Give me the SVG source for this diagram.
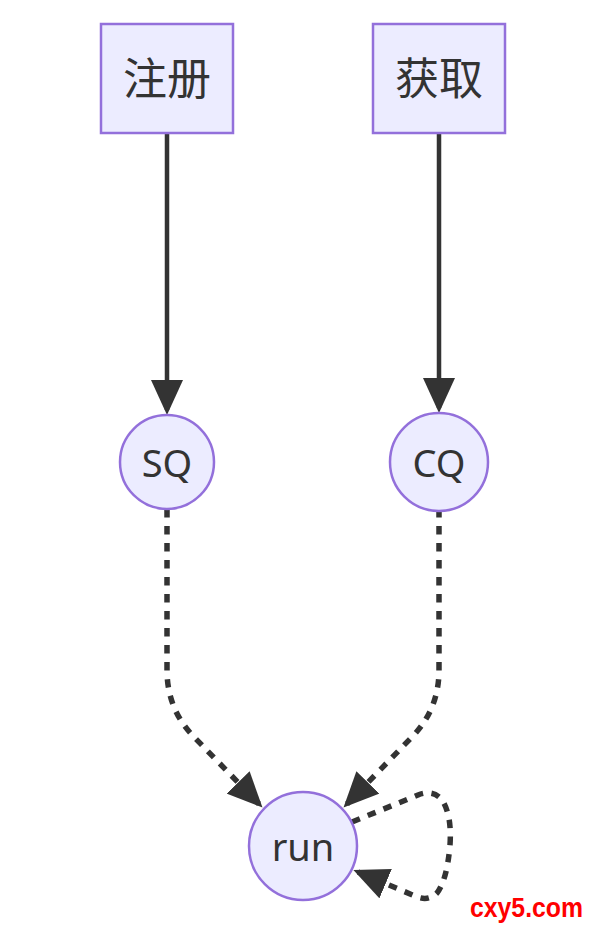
<svg xmlns="http://www.w3.org/2000/svg" width="589" height="926" viewBox="0 0 589 926">
<style>
.node rect, .node circle { fill: #ECECFF; stroke: #9370DB; stroke-width: 2.5; }
.node text { font-family: "Noto Sans", "Open Sans", "Noto Sans CJK SC", sans-serif; font-size: 38px; fill: #333; text-anchor: middle; dominant-baseline: central; }
.node text.cjk { font-size: 44px; }
.edge { fill: none; stroke: #333; stroke-width: 4.5; }
.dashed { stroke-width: 5.5; stroke-dasharray: 8.5 8.5; }
.wm { font-family: "Liberation Sans", Arial, sans-serif; font-weight: bold; font-size: 27px; fill: #FF0000; }
</style>
<defs>
<marker id="arrow" viewBox="0 0 35 32" refX="30" refY="16" markerWidth="35" markerHeight="32" markerUnits="userSpaceOnUse" orient="auto">
<path d="M0,0 L35,16 L0,32 z" fill="#333"/>
</marker>
</defs>
<g id="connectors">
<path class="edge" d="M167,133 L167,410" marker-end="url(#arrow)"/>
<path class="edge" d="M439,133 L439,408" marker-end="url(#arrow)"/>
<path class="edge dashed" d="M167,509 L167,670 Q167,710 195,738 L259,804" marker-end="url(#arrow)"/>
<path class="edge dashed" d="M439,509 L439,670 Q439,710 411,738 L347,804" marker-end="url(#arrow)"/>
<path class="edge dashed" d="M352,822 L418,795 Q433,789 442,800 Q452,815 450,845 Q447,880 437,893 Q428,902 415,896 L358,872" marker-end="url(#arrow)"/>
</g>
<g id="node-register" class="node">
<rect x="101" y="24" width="132" height="109"/>
<text class="cjk" x="167" y="78">注册</text>
</g>
<g id="node-fetch" class="node">
<rect x="373" y="24" width="132" height="109"/>
<text class="cjk" x="439" y="78">获取</text>
</g>
<g id="node-SQ" class="node">
<circle cx="167" cy="462" r="47"/>
<text x="167" y="462">SQ</text>
</g>
<g id="node-CQ" class="node">
<circle cx="439" cy="462" r="49"/>
<text x="439" y="462">CQ</text>
</g>
<g id="node-run" class="node">
<circle cx="303" cy="846" r="54"/>
<text x="303" y="846">run</text>
</g>
<text class="wm" x="470" y="917" textLength="113" lengthAdjust="spacingAndGlyphs">cxy5.com</text>
</svg>
